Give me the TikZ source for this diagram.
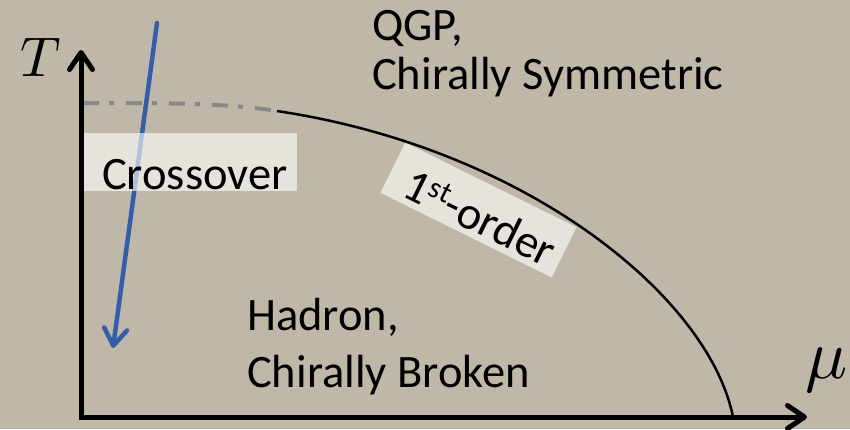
\documentclass[tikz,border=0pt]{standalone}
\usepackage{fontspec}
\setmainfont{Carlito}
\usetikzlibrary{arrows.meta,calc}
\definecolor{bg}{RGB}{191,184,168}
\definecolor{xblue}{RGB}{52,94,168}
\definecolor{dgrey}{RGB}{136,136,136}
\tikzset{
  lbl/.style={font=\fontsize{46.5}{49}\selectfont, inner sep=0pt, align=left, anchor=base west},
  glass/.style={fill=white, fill opacity=0.62, draw=none, inner sep=0pt},
  mybarb/.tip={Straight Barb[length=17pt,width=23pt,line cap=round,line join=round]},
  axisline/.style={line width=5pt, line join=miter, {mybarb}-{mybarb}},
  flowarrow/.style={xblue, line width=4.5pt, line cap=round, -{mybarb}},
  dashpart/.style={dgrey, line width=4pt, dash pattern=on 16pt off 10pt on 5pt off 12pt},
  solidpart/.style={black, line width=2.5pt},
  mathlbl/.style={inner sep=0pt}
}
\begin{document}
\begin{tikzpicture}[x=1pt,y=-1pt]
\useasboundingbox (0,0) rectangle (850,429);
\fill[bg] (0,0) rectangle (850,429);

% coordinates
\coordinate (ttip) at (81,50);
\coordinate (origin) at (81,417);
\coordinate (mtip) at (807,417);
\coordinate (bstart) at (157,23);
\coordinate (bend) at (113,348);
\coordinate (dstart) at (83,103);
\coordinate (cstart) at (277,111);
\coordinate (cend) at (733,417);

% blue arrow
\draw[flowarrow] (bstart) -- (bend);

% translucent label boxes
\node[glass, minimum width=216, minimum height=58, anchor=north west] (xbox) at (81,133) {};
\node[lbl] (xtext) at (102,189) {Crossover};

\node[glass, rotate=-26.3, minimum width=191, minimum height=56] (fobox) at (478.5,210) {};
\node[font=\fontsize{46.5}{49}\selectfont, inner sep=0pt, anchor=base, rotate=-26.3] (fotext) at (473.2,231.9)
  {1\raisebox{13pt}{\fontsize{30}{30}\selectfont st}-order};

% phase boundary
\draw[dashpart] (dstart) .. controls (170,103) and (225,103) .. (cstart);
\draw[solidpart] (cstart) .. controls (527,148.5) and (709,297) .. (cend);

% region labels (base anchor = baseline of last line)
\node[lbl] (qgp) at (372,89) {QGP,\\Chirally Symmetric};
\node[lbl] (hadron) at (247,387) {Hadron,\\[8pt]Chirally Broken};

% axes
\draw[axisline] (ttip) -- (origin) -- (mtip);
\node[mathlbl, scale=5.6] (tlabel) at (41,57) {$T$};
\node[mathlbl, scale=7] (mulabel) at (827,370) {$\mu$};
\end{tikzpicture}
\end{document}
